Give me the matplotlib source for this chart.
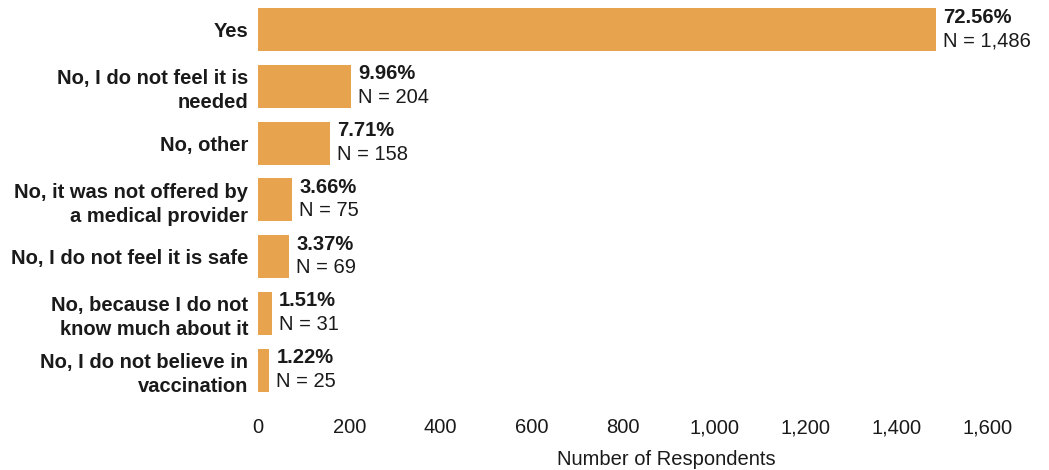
import matplotlib
matplotlib.use("Agg")
import matplotlib.pyplot as plt
from matplotlib.ticker import FuncFormatter

# =========================
# Données
# =========================

categories = [
    "Yes",
    "No, I do not feel it is\nneeded",
    "No, other",
    "No, it was not offered by\na medical provider",
    "No, I do not feel it is safe",
    "No, because I do not\nknow much about it",
    "No, I do not believe in\nvaccination",
]
counts = [1486, 204, 158, 75, 69, 31, 25]
percents = ["72.56%", "9.96%", "7.71%", "3.66%", "3.37%", "1.51%", "1.22%"]
x_ticks = [0, 200, 400, 600, 800, 1000, 1200, 1400, 1600]

BAR_COLOR = "#E8A34F"

plt.rcParams["font.family"] = ["Liberation Sans", "DejaVu Sans"]
plt.rcParams["font.size"] = 14.5

fig, ax = plt.subplots(figsize=(10.49, 4.70), dpi=100)
fig.subplots_adjust(left=258 / 1049, right=988 / 1049, top=1 - 1.1 / 470, bottom=1 - 398.7 / 470)

y = list(range(len(categories)))
ax.barh(y, counts, height=0.76, color=BAR_COLOR)

# étiquettes de valeurs (pourcentage en gras + effectif)
for yi, n, p in zip(y, counts, percents):
    ax.annotate(p, xy=(n, yi), xytext=(7, 7), textcoords="offset pixels",
                ha="left", va="baseline", fontweight="bold", color="#1a1a1a")
    ax.annotate(f"N = {n:,}", xy=(n, yi), xytext=(7, -16.5), textcoords="offset pixels",
                ha="left", va="baseline", color="#1a1a1a")

ax.set_ylim(6.5, -0.5)
ax.set_xlim(0, 1600)
ax.set_yticks(y)
ax.set_yticklabels(categories, fontweight="bold", linespacing=1.31)
ax.set_xticks(x_ticks)
ax.xaxis.set_major_formatter(FuncFormatter(lambda v, _: f"{int(v):,}"))

ax.tick_params(axis="y", length=0, pad=7.2, colors="#1a1a1a")
ax.tick_params(axis="x", length=0, pad=14, colors="#1a1a1a")

for s in ax.spines.values():
    s.set_visible(False)

ax.set_xlabel("Number of Respondents", color="#1a1a1a")
ax.xaxis.set_label_coords(0.559, -0.128)

fig.savefig("out.png", dpi=100)
